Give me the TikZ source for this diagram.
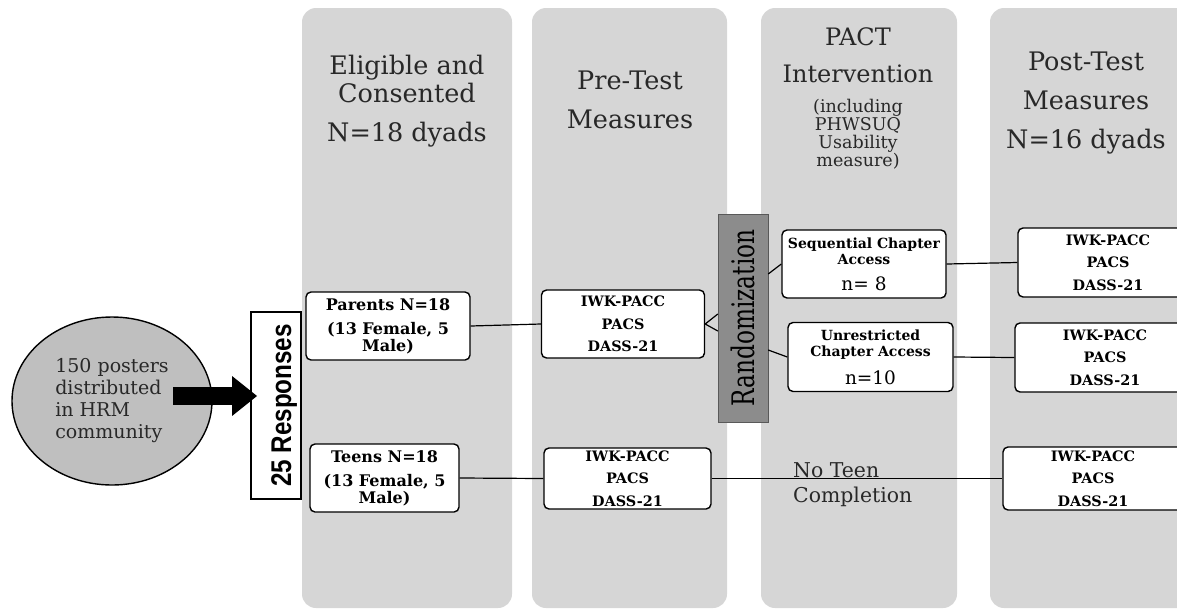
\documentclass[tikz,border=0pt]{standalone}
\usepackage{fontspec}
\setmainfont{DejaVu Serif}
\newfontfamily\condsans[FakeStretch=0.85]{Liberation Sans}
\newfontfamily\condserif[FakeStretch=0.75]{DejaVu Serif}
\usetikzlibrary{arrows.meta,calc,shapes.geometric}
\definecolor{colgray}{RGB}{214,214,214}
\definecolor{ovalgray}{RGB}{191,191,191}
\definecolor{randgray}{RGB}{140,140,140}
\definecolor{textgray}{RGB}{40,40,40}
\tikzset{
	column/.style={fill=colgray, rounded corners=14pt},
	head/.style={align=center, text=textgray, inner sep=0pt,
		font={\fontsize{25.5}{28}\selectfont}},
	small/.style={align=center, text=textgray, inner sep=0pt,
		font={\fontsize{17.5}{18}\selectfont}},
	boxA/.style={draw, line width=1.4pt, fill=white, rounded corners=5pt,
		align=center, inner sep=0pt, font={\bfseries\fontsize{14.4}{22.5}\selectfont}},
	boxB/.style={boxA, font={\bfseries\fontsize{16}{17}\selectfont}},
	boxC/.style={boxA, font={\bfseries\fontsize{14}{16}\selectfont}},
	link/.style={line width=1.2pt},
	>=stealth,
}
\def\colTop{8}
\def\colBot{608}
\newcommand{\nbig}[1]{{\mdseries\fontsize{18.5}{20}\selectfont #1}}

\begin{document}
\begin{tikzpicture}[x=1pt, y=-1pt]
\clip (0,0) rectangle (1177,611);
\foreach \xa/\xb in {302/512, 532/727, 761/957, 990/1210}
	\fill[column] (\xa,\colTop) rectangle (\xb,\colBot);

% column heads
\node[head] (head1) at (407,101) {Eligible and\\Consented\\[11pt]N=18 dyads};
\node[head, font={\fontsize{25.5}{39}\selectfont}] (head2) at (630,100) {Pre-Test\\Measures};
\node[head, font={\fontsize{24}{37}\selectfont}] (head3) at (858,55) {PACT\\Intervention};
\node[small] (head3b) at (858,134) {(including\\PHWSUQ\\Usability\\measure)};
\node[head, font={\fontsize{25.5}{39}\selectfont}] (head4) at (1086,103) {Post-Test\\Measures\\N=16 dyads};

% recruitment
\node[draw, ellipse, line width=1.4pt, fill=ovalgray, minimum width=200, minimum height=168,
	align=left, text=textgray, font={\fontsize{19}{22}\selectfont}] (poster) at (112,401)
	{150 posters\\distributed\\in HRM\\community};
\node[draw, line width=1.6pt, fill=white, rotate=90, minimum width=187, minimum height=50,
	inner sep=0pt, text height=30pt, text depth=0pt,
	font={\condsans\bfseries\fontsize{28.5}{28}\selectfont}] (resp) at (276,405.5) {25 Responses};
\coordinate (arrowstart) at (173,396);
\draw[line width=18pt, -{Triangle[length=25pt,width=38pt]}, shorten >=-7pt]
	(arrowstart) -- (arrowstart -| resp.north);

% boxes
\node[boxB, minimum width=164, minimum height=68] (parent) at (388,326)
	{Parents N=18\\[7pt](13 Female, 5\\Male)};
\node[boxB, minimum width=149, minimum height=68] (teen) at (384.5,478)
	{Teens N=18\\[7pt](13 Female, 5\\Male)};
\node[boxA, minimum width=163, minimum height=68] (pre1) at (623,324)
	{IWK-PACC\\PACS\\DASS-21};
\node[boxA, minimum width=167, minimum height=61] (pre2) at (627.5,478.5)
	{IWK-PACC\\PACS\\DASS-21};
\node[draw=gray!70!black, fill=randgray, rotate=90, minimum width=208, minimum height=50,
	inner sep=0pt, font={\condserif\fontsize{31}{31}\selectfont}] (rand) at (743,318) {Randomization};
\node[boxC, minimum width=164, minimum height=68] (seq) at (864,264)
	{Sequential Chapter\\Access\\[10pt]\nbig{n= 8}};
\node[boxC, minimum width=165, minimum height=69] (unr) at (870.5,357)
	{Unrestricted\\Chapter Access\\[10pt]\nbig{n=10}};
\node[boxA, minimum width=180, minimum height=69] (post1) at (1108,262.5)
	{IWK-PACC\\PACS\\DASS-21};
\node[boxA, minimum width=180, minimum height=69] (post2) at (1105,357.5)
	{IWK-PACC\\PACS\\DASS-21};
\node[boxA, minimum width=180, minimum height=63] (post3) at (1093,478.5)
	{IWK-PACC\\PACS\\DASS-21};
\node[anchor=west, align=left, inner sep=0pt, text=textgray,
	font={\fontsize{20.4}{25}\selectfont}] (noteen) at (793,485) {No Teen\\Completion};

% connectors
\draw[link] (parent.east) -- (pre1.west);
\draw[link] (teen.east) -- (pre2.west);
\draw[link] (pre2.east) -- (post3.west);
\draw[link] ($(rand.north)+(0,-4)$) -- (pre1.east) -- ($(rand.north)+(0,13)$);
\draw[link] ($(rand.south)+(0,-44)$) -- (seq.west);
\draw[link] ($(rand.south)+(0,32)$) -- (unr.west);
\draw[link] (seq.east) -- (post1.west);
\draw[link] (unr.east) -- (post2.west);
\end{tikzpicture}
\end{document}
